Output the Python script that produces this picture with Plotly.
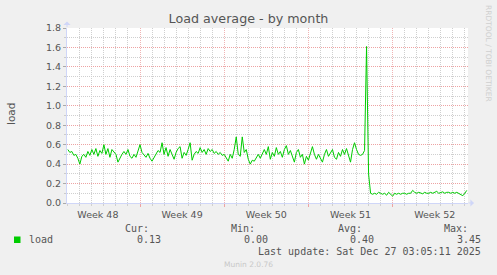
import pandas as pd
import plotly.graph_objects as go

# ---- data (munin "load" plugin, monthly view, 4-hour samples) ----
series_start = "2025-11-25 00:00"
sample_step = "4h"
load = [
    0.55, 0.52, 0.53, 0.49, 0.50, 0.46, 0.40, 0.48, 0.50, 0.47,
    0.53, 0.49, 0.55, 0.50, 0.56, 0.48, 0.54, 0.51, 0.60, 0.50,
    0.56, 0.47, 0.55, 0.52, 0.50, 0.42, 0.47, 0.50, 0.53, 0.50,
    0.55, 0.48, 0.46, 0.50, 0.47, 0.53,
    0.60, 0.52, 0.50, 0.47, 0.51, 0.46, 0.43, 0.47, 0.50, 0.54,
    0.52, 0.62, 0.50, 0.57, 0.48, 0.55, 0.50, 0.45, 0.52, 0.56,
    0.58, 0.46, 0.52, 0.49, 0.55, 0.62, 0.44, 0.50, 0.53, 0.51,
    0.57, 0.52, 0.55, 0.50, 0.56, 0.53, 0.55, 0.51, 0.53, 0.50,
    0.52, 0.49,
    0.50, 0.47, 0.43, 0.50, 0.46, 0.55, 0.68, 0.50, 0.48, 0.68,
    0.52, 0.55, 0.45, 0.40, 0.44, 0.43, 0.47, 0.50, 0.46, 0.50,
    0.55, 0.50, 0.58, 0.45, 0.52, 0.48, 0.57, 0.50, 0.53, 0.47,
    0.55, 0.59, 0.50, 0.54, 0.48, 0.42, 0.52, 0.55, 0.47, 0.50,
    0.40, 0.48,
    0.44, 0.52, 0.58, 0.50, 0.45, 0.50, 0.46, 0.42, 0.50, 0.55,
    0.48, 0.52, 0.55, 0.47, 0.45, 0.52, 0.48, 0.55, 0.50, 0.56,
    0.50, 0.42, 0.55, 0.62, 0.55, 0.50, 0.49, 0.50, 0.54, 1.61,
    0.30, 0.10,
    0.09, 0.10, 0.09, 0.11, 0.10, 0.09, 0.10, 0.08, 0.11, 0.09,
    0.07, 0.10, 0.09, 0.10, 0.09, 0.10, 0.10, 0.09, 0.10, 0.10,
    0.13, 0.11, 0.10, 0.11, 0.10, 0.095, 0.11, 0.10, 0.10, 0.11,
    0.10, 0.11, 0.12, 0.10, 0.11, 0.115, 0.10, 0.11, 0.11, 0.10,
    0.11, 0.10, 0.11, 0.10, 0.09, 0.075, 0.10, 0.13,
]
view_start = "2025-11-24 22:22"
view_end = "2025-12-28 06:22"
week_anchor = "2025-12-01"
y_range = [0, 1.8]

series_name = "load"
legend_headers = ["Cur:", "Min:", "Avg:", "Max:"]
legend_values = ["0.13", "0.00", "0.40", "3.45"]
last_update = "Last update: Sat Dec 27 03:05:11 2025"
title_text = "Load average - by month"
y_title = "load"
watermark = "RRDTOOL / TOBI OETIKER"
footer = "Munin 2.0.76"

times = pd.date_range(series_start, periods=len(load), freq=sample_step)

# daily minor grid (skipping the weekly major lines) and odd-tenth minor y grid
days = pd.date_range("2025-11-24", "2025-12-29", freq="D")
minor_days = [d.strftime("%Y-%m-%d") for d in days if d.weekday() != 0]
minor_y = [round(0.1 + 0.2 * k, 1) for k in range(9)]

# ---- styling ----
W, H = 497, 275
L, R, T, B = 67, 29, 28, 72
PW, PH = W - L - R, H - T - B
GREEN = "#00CC00"
FONT = "#555555"
MGRID = "#EDA3A3"
MGRID_X = "#F0B4B4"
GRID = "#CFCFCF"
AXIS = "#CFD6F8"


def px(xp):
    return (xp - L) / PW


def py(yp):
    return (H - B - yp) / PH


fig = go.Figure()
fig.add_trace(go.Scatter(
    x=times, y=load, mode="lines", name=series_name,
    line=dict(color=GREEN, width=1), hoverinfo="skip", showlegend=False,
))

fig.update_layout(
    width=W, height=H,
    margin=dict(l=L, r=R, t=T, b=B),
    paper_bgcolor="#F0F0F0",
    plot_bgcolor="#FFFFFF",
    hovermode=False,
    title=dict(text=title_text, x=0.5, xref="container", xanchor="center",
               y=1 - 19 / H, yref="container", yanchor="middle",
               font=dict(family="DejaVu Sans", size=12.7, color=FONT)),
    xaxis=dict(
        type="date", range=[view_start, view_end],
        tick0=week_anchor, dtick=7 * 86400000,
        tickformat="Week %V", ticklabelmode="period",
        showgrid=True, gridcolor=MGRID_X, griddash="1px,1px", gridwidth=1,
        ticks="outside", ticklen=3, tickcolor=MGRID,
        showline=True, linecolor=AXIS, linewidth=1,
        zeroline=False, ticklabelstandoff=0,
        tickfont=dict(family="DejaVu Sans", size=9.5, color=FONT),
        minor=dict(tickmode="array", tickvals=minor_days, showgrid=True,
                   gridcolor=GRID, griddash="1px,1px", gridwidth=1,
                   ticks="outside", ticklen=2, tickcolor=GRID),
    ),
    yaxis=dict(
        range=y_range, tick0=0, dtick=0.2, tickformat=".1f",
        showgrid=True, gridcolor=MGRID, griddash="1px,1px", gridwidth=1,
        ticks="outside", ticklen=3, tickcolor="#AAAAAA",
        showline=True, linecolor=AXIS, linewidth=1,
        zeroline=False,
        tickfont=dict(family="DejaVu Sans", size=9.5, color=FONT),
        minor=dict(tickmode="array", tickvals=minor_y, showgrid=True,
                   gridcolor=GRID, griddash="1px,1px", gridwidth=1,
                   ticks="outside", ticklen=2, tickcolor="#CCCCCC"),
    ),
)

ann = []
ann.append(dict(text=y_title, xref="paper", yref="paper", x=px(10.5), y=py(114.5),
                xanchor="center", yanchor="middle", textangle=-90, showarrow=False,
                font=dict(family="DejaVu Sans", size=10.5, color=FONT)))
ann.append(dict(text=watermark, xref="paper", yref="paper", x=px(488.3), y=py(53.3),
                xanchor="center", yanchor="middle", textangle=90, showarrow=False,
                font=dict(family="DejaVu Sans", size=7.5, color="#CFCFCF")))
ann.append(dict(text=footer, xref="paper", yref="paper", x=px(248), y=py(264),
                xanchor="center", yanchor="middle", showarrow=False,
                font=dict(family="DejaVu Sans", size=7.5, color="#C8C8C8")))
ann.append(dict(text="", xref="paper", yref="paper", x=0, y=py(21.5),
                ax=0, ay=7, showarrow=True, arrowhead=1, arrowsize=1.2,
                arrowwidth=1, arrowcolor=AXIS))
ann.append(dict(text="", xref="paper", yref="paper", x=px(474), y=0,
                ax=-7, ay=0, showarrow=True, arrowhead=1, arrowsize=1.2,
                arrowwidth=1, arrowcolor=AXIS))

mono = dict(family="DejaVu Sans Mono", size=10, color=FONT)
ann.append(dict(text=series_name, xref="paper", yref="paper", x=px(26.5), y=py(239.5),
                xanchor="left", yanchor="middle", showarrow=False, font=mono))
header_right = [150.5, 256.5, 363.5, 470.3]
value_right = [162.5, 269.5, 376.3, 482.5]
for h, hx in zip(legend_headers, header_right):
    ann.append(dict(text=h, xref="paper", yref="paper", x=px(hx), y=py(228),
                    xanchor="right", yanchor="middle", showarrow=False, font=mono))
for v, vx in zip(legend_values, value_right):
    ann.append(dict(text=v, xref="paper", yref="paper", x=px(vx), y=py(239.5),
                    xanchor="right", yanchor="middle", showarrow=False, font=mono))
ann.append(dict(text=last_update, xref="paper", yref="paper", x=px(482.5), y=py(251),
                xanchor="right", yanchor="middle", showarrow=False, font=mono))
fig.update_layout(annotations=ann)

fig.add_shape(type="rect", xref="paper", yref="paper",
              x0=px(14), x1=px(20.5), y0=py(243), y1=py(236.5),
              fillcolor=GREEN, line=dict(width=0))

fig.write_html("out.html")
